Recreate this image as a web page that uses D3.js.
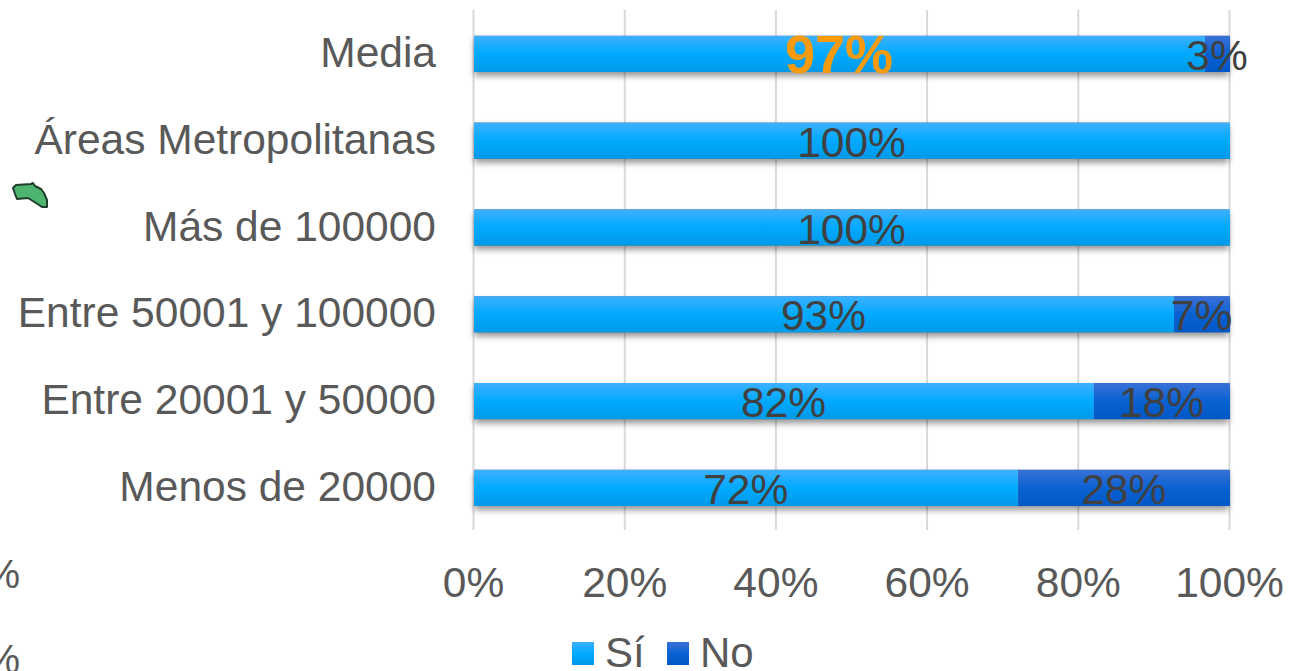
<!DOCTYPE html>
<html><head><meta charset="utf-8">
<script src="https://cdn.jsdelivr.net/npm/d3@7"></script>
<style>html,body{margin:0;padding:0;background:#fff;overflow:hidden}svg{display:block}text{font-family:"Liberation Sans",Arial,sans-serif}</style>
</head><body><svg id="c" width="1307" height="671"></svg>
<script>
const categories=["Media","Áreas Metropolitanas","Más de 100000","Entre 50001 y 100000","Entre 20001 y 50000","Menos de 20000"];
const siValues=[96.7,100,100,92.6,82,72];
const noValues=[3.3,0,0,7.4,18,28];
const seriesNames=["Sí","No"];
const tickValues=[0,20,40,60,80,100];
const svg=d3.select("#c");
const defs=svg.append("defs");
function grad(id,a,b,c){const g=defs.append("linearGradient").attr("id",id).attr("x1",0).attr("x2",0).attr("y1",0).attr("y2",1);
 g.append("stop").attr("offset","0%").attr("stop-color",a);g.append("stop").attr("offset","50%").attr("stop-color",b);g.append("stop").attr("offset","100%").attr("stop-color",c);}
grad("gSi","#3fb0ff","#00aaff","#0099e8");
grad("gNo","#3a70d6","#0a62d2","#0058c8");
const f=defs.append("filter").attr("id","sh").attr("x","-5%").attr("y","-30%").attr("width","110%").attr("height","180%");
f.append("feDropShadow").attr("dx",0).attr("dy",4).attr("stdDeviation",3).attr("flood-color","#000").attr("flood-opacity",0.42);

const x=d3.scaleLinear().domain([0,100]).range([473.5,1229.5]);
const y=d3.scaleBand().domain(categories).range([10.5,531.3]).paddingInner(0.583).paddingOuter(0.2915);
svg.append("g").selectAll("line").data(tickValues).join("line")
 .attr("x1",d=>x(d)).attr("x2",d=>x(d)).attr("y1",10).attr("y2",530)
 .attr("stroke","#d9d9d9").attr("stroke-width",2);
svg.append("g").selectAll("text").data(categories).join("text")
 .attr("x",436).attr("y",d=>y(d)+y.bandwidth()/2+13).attr("text-anchor","end")
 .attr("font-size",42.5).attr("fill","#595959").text(d=>d);
svg.append("g").selectAll("text").data(tickValues).join("text")
 .attr("x",d=>x(d)).attr("y",597).attr("text-anchor","middle")
 .attr("font-size",42.5).attr("fill","#595959").text(d=>d+"%");
const bars=svg.append("g");
bars.selectAll("rect.s").data(categories).join("rect").attr("class","s")
 .attr("x",x(0)+1).attr("width",x(100)-x(0)-2).attr("y",d=>y(d)).attr("height",y.bandwidth())
 .attr("fill","#666").attr("filter","url(#sh)");
bars.selectAll("rect.si").data(categories).join("rect").attr("class","si")
 .attr("x",x(0)+.5).attr("width",(d,i)=>x(siValues[i])-x(0)).attr("y",d=>y(d)).attr("height",y.bandwidth())
 .attr("fill","url(#gSi)");
bars.selectAll("rect.no").data(categories).join("rect").attr("class","no")
 .attr("x",(d,i)=>x(siValues[i])+.5).attr("width",(d,i)=>x(100)-x(siValues[i])).attr("y",d=>y(d)).attr("height",y.bandwidth())
 .attr("fill","url(#gNo)");
const labels=svg.append("g");
categories.forEach((c,i)=>{
 const top=i===0;
 labels.append("text").attr("x",x(siValues[i]/2)).attr("y",y(c)+y.bandwidth()/2+(top?19:16)).attr("text-anchor","middle")
  .attr("font-size",top?54:42.5).attr("font-weight",top?"bold":"normal").attr("fill",top?"#f79a0e":"#404040").text(Math.round(siValues[i])+"%");
 if(noValues[i]>0) labels.append("text").attr("x",x(siValues[i]+noValues[i]/2)).attr("y",y(c)+y.bandwidth()/2+16).attr("text-anchor","middle")
  .attr("font-size",42.5).attr("fill","#404040").text(Math.round(noValues[i])+"%");
});
const legendX=[572,667];
const lg=svg.append("g");
seriesNames.forEach((n,i)=>{
 lg.append("rect").attr("x",legendX[i]).attr("y",642).attr("width",22).attr("height",23).attr("fill",i?"url(#gNo)":"url(#gSi)");
 lg.append("text").attr("x",legendX[i]+33).attr("y",667).attr("font-size",42).attr("fill","#595959").text(n);
});
const strayY=[588,673];
svg.append("g").selectAll("text").data(strayY).join("text").attr("x",20).attr("y",d=>d).attr("text-anchor","end")
 .attr("font-size",40).attr("fill","#595959").text("%");
const islandShape=[[13,188],[16,185],[31,184],[33,183],[35,186],[41,189],[44,193],[47,200],[47,207],[42,207],[36,203],[28,198],[17,199],[15,194]];
svg.append("path").attr("d",d3.line()(islandShape)+"Z").attr("fill","#4db56f").attr("stroke","#1f3d2a").attr("stroke-width",2).attr("stroke-linejoin","round");
</script></body></html>
